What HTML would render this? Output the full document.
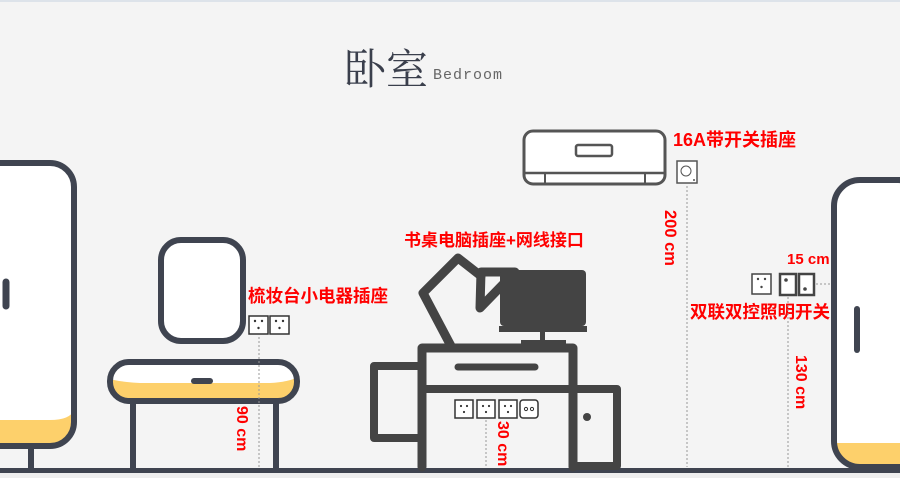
<!DOCTYPE html>
<html><head><meta charset="utf-8"><style>
html,body{margin:0;padding:0;background:#f4f4f4;}
svg{display:block;}
.r{fill:#f00;font-family:"Liberation Sans","Noto Sans CJK SC",sans-serif;font-weight:bold;}
</style></head><body>
<svg width="900" height="478" viewBox="0 0 900 478" xmlns="http://www.w3.org/2000/svg">
<rect width="900" height="478" fill="#f4f4f4"/>
<line x1="0" y1="1" x2="900" y2="1" stroke="#dde3ea" stroke-width="2"/>
<rect x="0" y="468" width="900" height="5" fill="#3f4450"/>
<rect x="0" y="473" width="900" height="5" fill="#eeeeee"/>

<line x1="31" y1="445" x2="31" y2="469" stroke="#3f4450" stroke-width="6"/>
<defs><clipPath id="lw"><rect x="-30" y="163" width="104" height="283" rx="24"/></clipPath>
<clipPath id="rw"><rect x="834" y="180" width="90" height="287" rx="26"/></clipPath>
<clipPath id="tb"><rect x="110" y="362" width="187" height="39" rx="19"/></clipPath></defs>
<rect x="-30" y="163" width="104" height="283" rx="24" fill="#fff"/>
<g clip-path="url(#lw)"><path d="M-30 420 L50 420 Q70 420 74 410 L74 450 L-30 450Z" fill="#fdd06b"/></g>
<rect x="-30" y="163" width="104" height="283" rx="24" fill="none" stroke="#3f4450" stroke-width="6"/>
<line x1="6" y1="282" x2="6" y2="306" stroke="#3f4450" stroke-width="7" stroke-linecap="round"/>

<rect x="161" y="240" width="82" height="101" rx="20" fill="#fff" stroke="#3f4450" stroke-width="6"/>
<line x1="133" y1="400" x2="133" y2="468" stroke="#3f4450" stroke-width="6"/>
<line x1="276" y1="400" x2="276" y2="468" stroke="#3f4450" stroke-width="6"/>
<rect x="110" y="362" width="187" height="39" rx="19" fill="#fff"/>
<g clip-path="url(#tb)"><path d="M105 378 Q120 382 140 383 L270 383 Q290 382 300 376 L300 405 L105 405Z" fill="#fdd06b"/></g>
<rect x="110" y="362" width="187" height="39" rx="19" fill="none" stroke="#3f4450" stroke-width="6"/>
<line x1="194" y1="381" x2="210" y2="381" stroke="#3f4450" stroke-width="6" stroke-linecap="round"/>

<g stroke="#333" stroke-width="1.5" fill="#fff">
<rect x="249" y="316" width="19" height="18"/><rect x="270" y="316" width="19" height="18"/>
</g>
<g fill="#333"><circle cx="255" cy="321" r="1.2"/><circle cx="262" cy="321" r="1.2"/><circle cx="258.5" cy="328" r="1.2"/>
<circle cx="276" cy="321" r="1.2"/><circle cx="283" cy="321" r="1.2"/><circle cx="279.5" cy="328" r="1.2"/></g>
<text class="r" x="248" y="302" font-size="17.5">梳妆台小电器插座</text>
<line x1="259" y1="337" x2="259" y2="467" stroke="#999" stroke-dasharray="2,2"/>
<text class="r" font-size="16" transform="translate(237,406) rotate(90)">90 cm</text>

<polyline points="451,346 423,293 458,258 481,276" fill="none" stroke="#444" stroke-width="9" stroke-linejoin="round" stroke-linecap="round"/>
<polygon points="481,272 515,272 480,308" fill="none" stroke="#444" stroke-width="9" stroke-linejoin="round"/>
<rect x="500" y="270" width="86" height="56" rx="4" fill="#444"/>
<rect x="499" y="326" width="88" height="6" fill="#444"/>
<rect x="540" y="332" width="5" height="9" fill="#444"/>
<rect x="521" y="340" width="45" height="4" fill="#444"/>
<rect x="374" y="366" width="48" height="72" fill="none" stroke="#444" stroke-width="8" stroke-linejoin="round"/>
<rect x="573" y="389" width="44" height="77" fill="none" stroke="#444" stroke-width="8" stroke-linejoin="round"/>
<circle cx="587" cy="417" r="4" fill="#444"/>
<path d="M422 467 L422 348 L573 348 L573 467" fill="none" stroke="#444" stroke-width="9" stroke-linejoin="round" stroke-linecap="round"/>
<line x1="422" y1="389" x2="617" y2="389" stroke="#444" stroke-width="8"/>
<line x1="458" y1="367" x2="535" y2="367" stroke="#444" stroke-width="7" stroke-linecap="round"/>

<g stroke="#333" stroke-width="1.5" fill="#fff">
<rect x="455" y="400" width="18" height="18"/><rect x="477" y="400" width="18" height="18"/><rect x="499" y="400" width="18" height="18"/>
<rect x="520" y="400" width="18" height="18" rx="3"/>
</g>
<g fill="#333">
<circle cx="461" cy="406" r="1.1"/><circle cx="467" cy="406" r="1.1"/><circle cx="464" cy="412" r="1.1"/>
<circle cx="483" cy="406" r="1.1"/><circle cx="489" cy="406" r="1.1"/><circle cx="486" cy="412" r="1.1"/>
<circle cx="505" cy="406" r="1.1"/><circle cx="511" cy="406" r="1.1"/><circle cx="508" cy="412" r="1.1"/>
</g>
<circle cx="526" cy="409" r="1.6" fill="none" stroke="#333"/><circle cx="532" cy="409" r="1.6" fill="none" stroke="#333"/>
<text class="r" x="404" y="246" font-size="17">书桌电脑插座+网线接口</text>
<line x1="486" y1="420" x2="486" y2="467" stroke="#999" stroke-dasharray="2,2"/>
<text class="r" font-size="16" transform="translate(498,421) rotate(90)">30 cm</text>

<rect x="524" y="131" width="141" height="53" rx="9" fill="#fff" stroke="#555" stroke-width="3"/>
<rect x="576" y="145" width="36" height="11" rx="2" fill="none" stroke="#555" stroke-width="2.5"/>
<line x1="524" y1="173" x2="665" y2="173" stroke="#555" stroke-width="2.5"/>
<line x1="545" y1="173" x2="545" y2="184" stroke="#555" stroke-width="2"/>
<line x1="645" y1="173" x2="645" y2="184" stroke="#555" stroke-width="2"/>
<text class="r" x="673" y="146" font-size="18">16A带开关插座</text>
<rect x="677" y="161" width="20" height="22" fill="#fff" stroke="#555" stroke-width="1.5"/>
<circle cx="686" cy="171" r="5" fill="none" stroke="#555"/>
<circle cx="694" cy="180" r="1" fill="#555"/>
<line x1="687" y1="186" x2="687" y2="467" stroke="#999" stroke-dasharray="2,2"/>
<text class="r" font-size="16.5" transform="translate(665,210) rotate(90)">200 cm</text>

<rect x="834" y="180" width="90" height="287" rx="26" fill="#fff"/>
<g clip-path="url(#rw)"><rect x="834" y="443" width="90" height="30" fill="#fdd06b"/></g>
<rect x="834" y="180" width="90" height="287" rx="26" fill="none" stroke="#3f4450" stroke-width="6"/>
<line x1="857" y1="309" x2="857" y2="350" stroke="#3f4450" stroke-width="6" stroke-linecap="round"/>

<rect x="752" y="274" width="19" height="20" fill="#fff" stroke="#444" stroke-width="1.5"/>
<g fill="#444"><circle cx="758" cy="279" r="1.2"/><circle cx="765" cy="279" r="1.2"/><circle cx="761.5" cy="287" r="1.2"/></g>
<rect x="780" y="274" width="16" height="21" fill="#fff" stroke="#444" stroke-width="2.5"/>
<rect x="799" y="274" width="15" height="21" fill="#fff" stroke="#444" stroke-width="2.5"/>
<circle cx="786" cy="280" r="1.8" fill="#444"/><circle cx="805" cy="289" r="1.8" fill="#444"/>
<line x1="816" y1="284" x2="830" y2="284" stroke="#999" stroke-dasharray="2,2"/>
<text class="r" x="787" y="264" font-size="15">15 cm</text>
<text class="r" x="690" y="318" font-size="17.5">双联双控照明开关</text>
<line x1="788" y1="297" x2="788" y2="467" stroke="#999" stroke-dasharray="2,2"/>
<text class="r" font-size="16" transform="translate(796,355) rotate(90)">130 cm</text>

<text x="344" y="84" font-size="42" fill="#3a3f4c" font-family="'Noto Serif CJK SC','Noto Sans CJK SC',serif">卧室</text>
<text x="433" y="79" font-size="15" fill="#666" font-family="'Liberation Mono',monospace" letter-spacing="1">Bedroom</text>
</svg>
</body></html>
